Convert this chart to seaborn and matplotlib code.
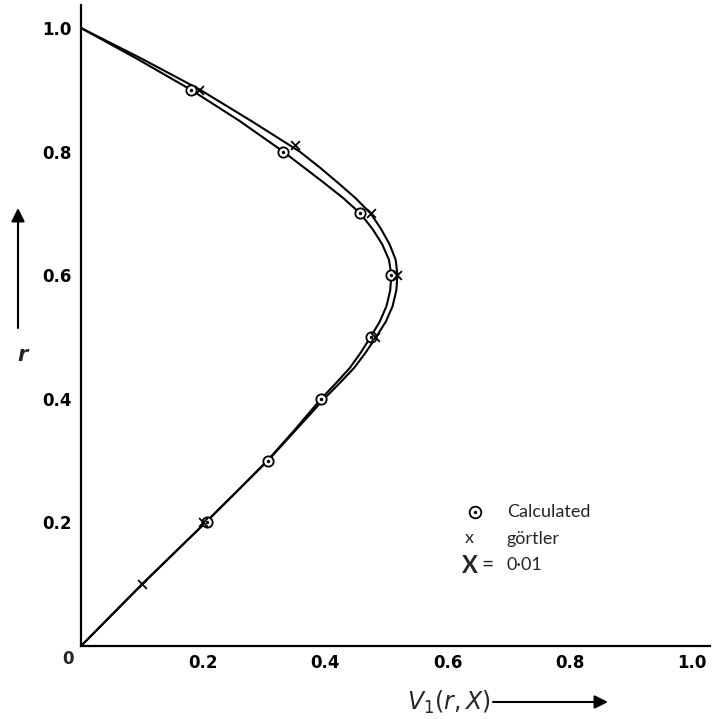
import numpy as np
import pandas as pd
import seaborn as sns
import matplotlib.pyplot as plt

# ---------------------------------------------------------
# Values
# smooth curves, read more densely round the nose
r_curve = [0.0, 0.05, 0.10, 0.15, 0.20, 0.25, 0.30, 0.35, 0.40, 0.425, 0.45, 0.475, 0.50,
           0.525, 0.55, 0.575, 0.60, 0.625, 0.65, 0.675, 0.70, 0.725, 0.75, 0.775, 0.80,
           0.85, 0.90, 0.95, 1.0]
v_calc_curve = [0.0, 0.050, 0.100, 0.152, 0.204, 0.255, 0.305, 0.350, 0.393, 0.417, 0.440,
                0.458, 0.474, 0.489, 0.500, 0.506, 0.508, 0.504, 0.493, 0.477, 0.457, 0.429,
                0.397, 0.364, 0.331, 0.259, 0.180, 0.092, 0.0]
v_gort_curve = [0.0, 0.050, 0.100, 0.152, 0.204, 0.255, 0.306, 0.352, 0.398, 0.423, 0.447,
                0.466, 0.483, 0.499, 0.510, 0.516, 0.518, 0.515, 0.505, 0.491, 0.474, 0.449,
                0.420, 0.390, 0.358, 0.278, 0.195, 0.100, 0.0]

# plotted points
r_calc = [0.9, 0.8, 0.7, 0.6, 0.5, 0.4, 0.3, 0.2]
v_calc = [0.180, 0.331, 0.457, 0.507, 0.475, 0.393, 0.306, 0.206]
r_gort = [0.9, 0.81, 0.7, 0.6, 0.5, 0.2, 0.1]
v_gort = [0.193, 0.351, 0.475, 0.517, 0.481, 0.200, 0.100]

x_ticks = [0.2, 0.4, 0.6, 0.8, 1.0]
y_ticks = [0.2, 0.4, 0.6, 0.8, 1.0]
tick_labels = ['0.2', '0.4', '0.6', '0.8', '1.0']

curves = pd.DataFrame({'r': r_curve, 'calc': v_calc_curve, 'gort': v_gort_curve})

# ---------------------------------------------------------
sns.set_style('white')
plt.rcParams['font.family'] = ['DejaVu Sans']

fig = plt.figure(figsize=(7.13, 7.19), dpi=100)
ax = fig.add_axes([81 / 713, 73 / 719, 1.03 * 611 / 713, 1.037 * 618 / 719])

# the two profiles
sns.lineplot(data=curves, x='calc', y='r', orient='y', color='black', lw=1.5, ax=ax)
sns.lineplot(data=curves, x='gort', y='r', orient='y', color='black', lw=1.5, ax=ax)

# calculated points: circle with a dot
sns.scatterplot(x=v_calc, y=r_calc, marker='o', s=55, facecolor='white',
                edgecolor='black', linewidth=1.3, zorder=3, ax=ax)
sns.scatterplot(x=v_calc, y=r_calc, marker='o', s=6, color='black', linewidth=0, zorder=4, ax=ax)
# goertler points
sns.scatterplot(x=v_gort, y=r_gort, marker='x', s=40, color='black', linewidth=1.3, zorder=4, ax=ax)

ax.set_xlim(0, 1.03)
ax.set_ylim(0, 1.037)
ax.set_xticks(x_ticks)
ax.set_xticklabels(tick_labels)
ax.set_yticks(y_ticks)
ax.set_yticklabels(tick_labels)
ax.tick_params(direction='in', length=8, width=1.2, labelsize=12, colors='black')
ax.tick_params(axis='x', pad=6)
ax.tick_params(axis='y', pad=7)
for lab in ax.get_xticklabels() + ax.get_yticklabels():
    lab.set_fontweight('bold')

for side in ['top', 'right']:
    ax.spines[side].set_visible(False)
for side in ['left', 'bottom']:
    ax.spines[side].set_color('black')
    ax.spines[side].set_linewidth(1.6)
ax.set_xlabel('')
ax.set_ylabel('')

# origin label
ax.annotate('0', xy=(0, 0), xytext=(-5, -3), textcoords='offset points',
            ha='right', va='top', fontsize=12, fontweight='bold')

# axis labels with arrows
ax.annotate('', xy=(18, 511), xytext=(18, 391), xycoords='figure pixels',
            textcoords='figure pixels',
            arrowprops=dict(arrowstyle='-|>', color='black', lw=1.5, mutation_scale=20,
                            shrinkA=0, shrinkB=0))
fig.text(22 / 713, 364 / 719, 'r', fontsize=15, fontweight='bold', style='italic',
         ha='center', va='center')

fig.text(449 / 713, 17 / 719, r'$V_1(r,X)$', fontsize=17, ha='center', va='center')
ax.annotate('', xy=(608, 17), xytext=(493, 17), xycoords='figure pixels',
            textcoords='figure pixels',
            arrowprops=dict(arrowstyle='-|>', color='black', lw=1.5, mutation_scale=20,
                            shrinkA=0, shrinkB=0))

# key
ax.scatter([0.645], [0.217], marker='o', s=70, facecolor='white', edgecolor='black', lw=1.3)
ax.scatter([0.645], [0.217], marker='o', s=6, color='black', lw=0)
ax.text(0.697, 0.217, 'Calculated', fontsize=13, family='Lato', va='center')
ax.text(0.635, 0.175, 'x', fontsize=13, family='Lato', va='center', ha='center')
ax.text(0.697, 0.173, 'görtler', fontsize=13, family='Lato', va='center')
ax.text(0.637, 0.131, 'X', fontsize=17, family='Lato', fontweight='bold', va='center', ha='center')
ax.text(0.666, 0.131, '=', fontsize=15, family='Lato', va='center', ha='center')
ax.text(0.697, 0.131, '0·01', fontsize=13, family='Lato', va='center')

fig.savefig('out.png', dpi=100)
